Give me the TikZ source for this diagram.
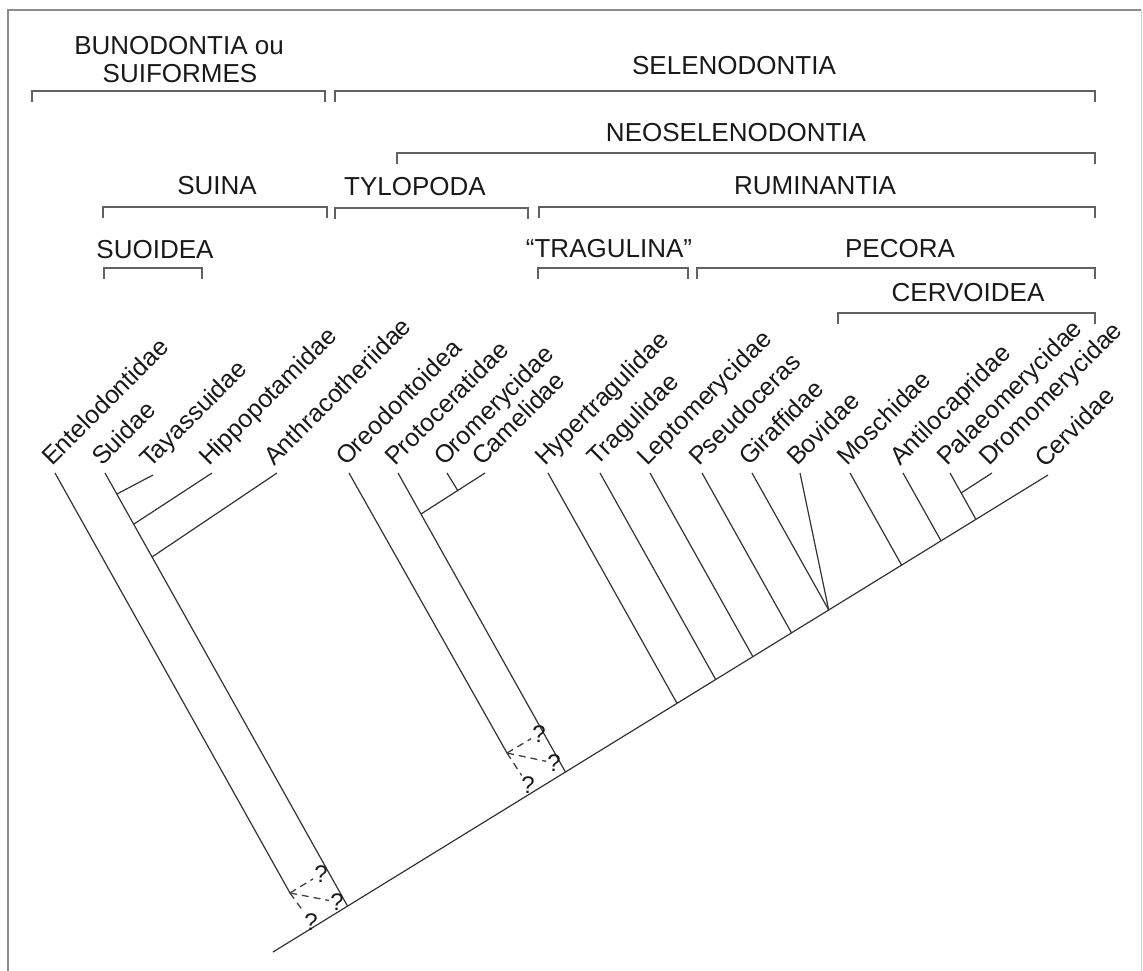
\documentclass[tikz,border=0pt]{standalone}
\usepackage{fontspec}
\setmainfont{Liberation Sans}
\usepackage{tikz}

\begin{document}
\begin{tikzpicture}[x=1pt,y=-1pt,
  branche/.style={black!80, line width=1.2pt},
  crochet/.style={black!62, line width=1.8pt},
  incert/.style={black!75, line width=1.3pt, dash pattern=on 7pt off 5pt},
  groupe/.style={anchor=base, inner sep=0pt, text=black!90, font=\fontsize{26}{30}\selectfont},
  taxon/.style={xshift=-3pt, yshift=6pt, rotate=45, anchor=base west, inner sep=0pt,
    text=black!90, font=\fontsize{25}{30}\selectfont},
  qmark/.style={inner sep=1pt, text=black!90, font=\fontsize{24}{26}\selectfont}]
  \useasboundingbox (0,0) rectangle (1143,971);

  % Cadre
  \draw[black!45, line width=1.2pt] (8,971) -- (8,10) -- (1141,10);
  \draw[black!18, line width=1pt] (1141,10) -- (1141,971);

  % Crochets des groupes
  \foreach \xa/\xb/\yy in {32/325/91, 335/1095/91, 397/1095/153,
      103/327/207, 335/528/208, 539/1095/207,
      104/202/268, 538/688/268, 697/1095/268, 838/1095/313}
    \draw[crochet] (\xa,\yy+11) -- (\xa,\yy) -- (\xb,\yy) -- (\xb,\yy+11);

  % Noms des groupes
  \node[groupe] (g-buno) at (179,55) {BUNODONTIA ou};
  \node[groupe] (g-suif) at (180,83) {SUIFORMES};
  \node[groupe] (g-sele) at (734,75) {SELENODONTIA};
  \node[groupe] (g-neos) at (736,142) {NEOSELENODONTIA};
  \node[groupe] (g-suin) at (217,194) {SUINA};
  \node[groupe] (g-tylo) at (415,195) {TYLOPODA};
  \node[groupe] (g-rumi) at (815,194) {RUMINANTIA};
  \node[groupe] (g-suoi) at (155,258) {SUOIDEA};
  \node[groupe] (g-trag) at (609,257) {“TRAGULINA”};
  \node[groupe] (g-peco) at (900,257) {PECORA};
  \node[groupe] (g-cerv) at (968,301) {CERVOIDEA};

  % Extremites des branches
  \coordinate (t-ent) at (55,473);
  \coordinate (t-sui) at (105,473);
  \coordinate (t-tay) at (153,475);
  \coordinate (t-hip) at (212,473);
  \coordinate (t-ant) at (277,473);
  \coordinate (t-ore) at (349,473);
  \coordinate (t-pro) at (398,473);
  \coordinate (t-oro) at (447,473);
  \coordinate (t-cam) at (485,473);
  \coordinate (t-hyp) at (548,473);
  \coordinate (t-tra) at (600,473);
  \coordinate (t-lep) at (650,473);
  \coordinate (t-pse) at (702,473);
  \coordinate (t-gir) at (752,473);
  \coordinate (t-bov) at (800,473);
  \coordinate (t-mos) at (850,473);
  \coordinate (t-atl) at (903,473);
  \coordinate (t-pal) at (950,473);
  \coordinate (t-dro) at (992,473);
  \coordinate (t-cer) at (1048,475);

  % Noeuds
  \coordinate (racine) at (273,952);
  \coordinate (n-ent) at (290,893);
  \coordinate (j-sui) at (347.5,906);
  \coordinate (j-tay) at (117,494);
  \coordinate (j-hip) at (134,524);
  \coordinate (j-ant) at (152,557);
  \coordinate (n-ore) at (507,753);
  \coordinate (j-pro) at (565.4,772);
  \coordinate (j-cam) at (421,514);
  \coordinate (j-oro) at (458,491);
  \coordinate (j-hyp) at (677,703.3);
  \coordinate (j-tra) at (715.7,679.5);
  \coordinate (j-lep) at (752.9,656.7);
  \coordinate (j-pse) at (791.5,632.9);
  \coordinate (j-gir) at (828.7,610);
  \coordinate (j-mos) at (901.6,565.1);
  \coordinate (j-atl) at (941,540.8);
  \coordinate (j-pal) at (975.9,519.3);
  \coordinate (j-dro) at (961,493);

  % Arbre
  \draw[branche] (racine) -- (t-cer);
  \draw[branche] (t-ent) -- (n-ent);
  \draw[branche] (t-sui) -- (j-sui);
  \draw[branche] (t-tay) -- (j-tay);
  \draw[branche] (t-hip) -- (j-hip);
  \draw[branche] (t-ant) -- (j-ant);
  \draw[branche] (t-ore) -- (n-ore);
  \draw[branche] (t-pro) -- (j-pro);
  \draw[branche] (t-cam) -- (j-cam);
  \draw[branche] (t-oro) -- (j-oro);
  \draw[branche] (t-hyp) -- (j-hyp);
  \draw[branche] (t-tra) -- (j-tra);
  \draw[branche] (t-lep) -- (j-lep);
  \draw[branche] (t-pse) -- (j-pse);
  \draw[branche] (t-gir) -- (j-gir);
  \draw[branche] (t-bov) -- (j-gir);
  \draw[branche] (t-mos) -- (j-mos);
  \draw[branche] (t-atl) -- (j-atl);
  \draw[branche] (t-pal) -- (j-pal);
  \draw[branche] (t-dro) -- (j-dro);

  % Positions incertaines
  \node[qmark] (q-e1) at (321,874) {?};
  \node[qmark] (q-e2) at (337,902) {?};
  \node[qmark] (q-e3) at (311,922) {?};
  \draw[incert] (n-ent) -- (q-e1);
  \draw[incert] (n-ent) -- (q-e2);
  \draw[incert] (n-ent) -- (q-e3);
  \node[qmark] (q-o1) at (539,734) {?};
  \node[qmark] (q-o2) at (554,763) {?};
  \node[qmark] (q-o3) at (528,785) {?};
  \draw[incert] (n-ore) -- (q-o1);
  \draw[incert] (n-ore) -- (q-o2);
  \draw[incert] (n-ore) -- (q-o3);

  % Noms des familles
  \node[taxon] (l-ent) at (t-ent) {Entelodontidae};
  \node[taxon] (l-sui) at (t-sui) {Suidae};
  \node[taxon] (l-tay) at (t-tay) {Tayassuidae};
  \node[taxon] (l-hip) at (t-hip) {Hippopotamidae};
  \node[taxon] (l-ant) at (t-ant) {Anthracotheriidae};
  \node[taxon] (l-ore) at (t-ore) {Oreodontoidea};
  \node[taxon] (l-pro) at (t-pro) {Protoceratidae};
  \node[taxon] (l-oro) at (t-oro) {Oromerycidae};
  \node[taxon] (l-cam) at (t-cam) {Camelidae};
  \node[taxon] (l-hyp) at (t-hyp) {Hypertragulidae};
  \node[taxon] (l-tra) at (t-tra) {Tragulidae};
  \node[taxon] (l-lep) at (t-lep) {Leptomerycidae};
  \node[taxon] (l-pse) at (t-pse) {Pseudoceras};
  \node[taxon] (l-gir) at (t-gir) {Giraffidae};
  \node[taxon] (l-bov) at (t-bov) {Bovidae};
  \node[taxon] (l-mos) at (t-mos) {Moschidae};
  \node[taxon] (l-atl) at (t-atl) {Antilocapridae};
  \node[taxon] (l-pal) at (t-pal) {Palaeomerycidae};
  \node[taxon] (l-dro) at (t-dro) {Dromomerycidae};
  \node[taxon] (l-cer) at (t-cer) {Cervidae};
\end{tikzpicture}
\end{document}
